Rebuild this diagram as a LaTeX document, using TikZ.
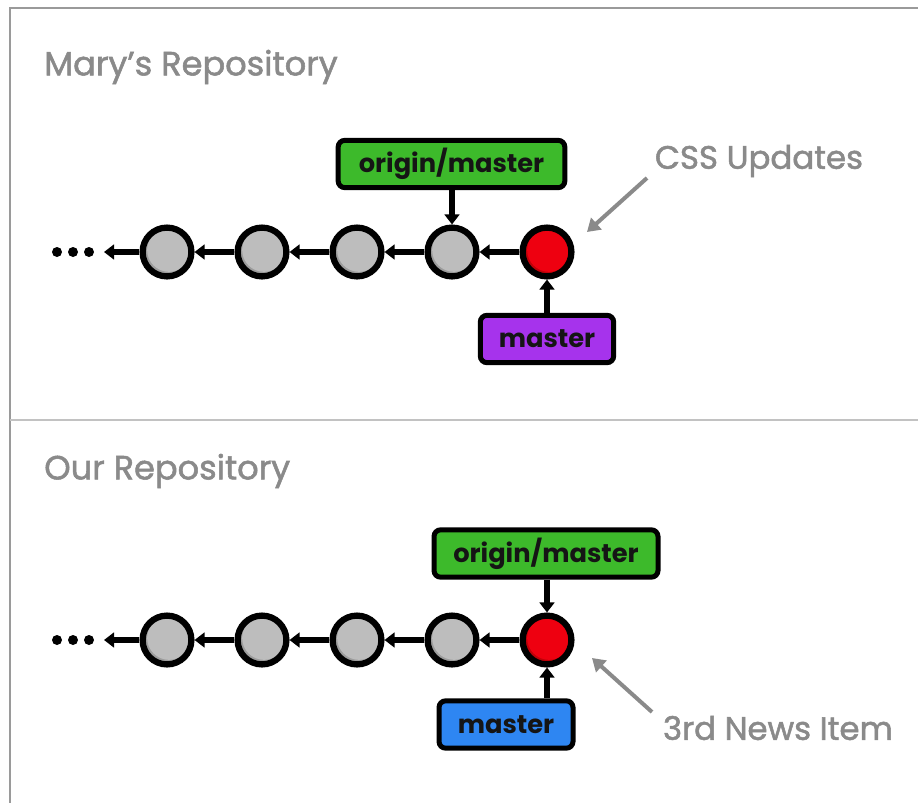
\documentclass[tikz,border=0pt]{standalone}
\usepackage{fontspec}
\setmainfont{Poppins}
\newfontfamily\notefont{Poppins}[FakeBold=1.6]
\usetikzlibrary{arrows.meta}
\definecolor{framegray}{HTML}{9A9A9A}
\definecolor{divgray}{HTML}{C2C2C2}
\definecolor{txtgray}{HTML}{8A8A8A}
\definecolor{commitlight}{HTML}{BDBDBD}
\definecolor{commitdark}{HTML}{9C9C9C}
\definecolor{redlight}{HTML}{EE0010}
\definecolor{reddark}{HTML}{BE0008}
\definecolor{greenfill}{HTML}{3DBA2B}
\definecolor{greendark}{HTML}{2E9A20}
\definecolor{purplefill}{HTML}{A633EC}
\definecolor{purpledark}{HTML}{8A1FCC}
\definecolor{bluefill}{HTML}{2E86F2}
\definecolor{bluedark}{HTML}{1C6AD0}
\definecolor{boxtext}{HTML}{151515}
\tikzset{
  commit/.style={circle, draw=black, line width=4.7pt, minimum size=36.6pt, inner sep=0pt,
    fill=commitdark, path picture={\fill[commitlight] ([xshift=1.6pt,yshift=1.6pt]path picture bounding box.center) circle (16.5pt);}},
  redcommit/.style={commit, fill=reddark, path picture={\fill[redlight] ([xshift=1.6pt,yshift=1.6pt]path picture bounding box.center) circle (16.5pt);}},
  dotnode/.style={circle, fill=black, minimum size=7.5pt, inner sep=0pt},
  carrow/.style={line width=3.9pt, -{Triangle[width=11pt,length=7.5pt]}},
  garrow/.style={draw=txtgray, line width=3pt, -{Triangle[width=11.5pt,length=9.5pt]}},
  branch/.style={draw=black, line width=3.75pt, rounded corners=5pt, minimum height=35.5pt, inner sep=0pt,
    text=boxtext, font=\bfseries\fontsize{19.3}{19.3}\selectfont},
  boxshade/.style={path picture={\fill[#1, rounded corners=3pt] ([xshift=1.5pt,yshift=1.5pt]path picture bounding box.south west) rectangle (path picture bounding box.north east);}},
  title/.style={text=txtgray, font=\notefont\fontsize{25.2}{25.2}\selectfont, anchor=west, inner sep=0pt},
  note/.style={text=txtgray, font=\notefont\fontsize{24.3}{24.3}\selectfont, inner sep=0pt},
}
\begin{document}
\begin{tikzpicture}[x=0.75pt,y=-0.75pt]
\useasboundingbox[fill=white] (0,0) rectangle (918,803);
% frame and divider
\coordinate (fbl) at (10,803);
\coordinate (ftl) at (10,8);
\coordinate (ftr) at (918,8);
\coordinate (dl) at (10,420);
\coordinate (dr) at (918,420);
\draw[framegray, line width=1.5pt] (fbl) -- (ftl) -- (ftr);
\draw[divgray, line width=1.5pt] (dl) -- (dr);

% ---------- Mary's repository ----------
\node[title] (ttitle) at (44,67) {Mary’s Repository};
\node[dotnode] (td1) at (57,252) {};
\node[dotnode] (td2) at (73,252) {};
\node[dotnode] (td3) at (89,252) {};
\coordinate (tend) at (104,252);
\node[commit] (t1) at (167,252) {};
\node[commit] (t2) at (262,252) {};
\node[commit] (t3) at (357,252) {};
\node[commit] (t4) at (452,252) {};
\node[redcommit] (t5) at (547,252) {};
\draw[carrow] (t5) -- (t4);
\draw[carrow] (t4) -- (t3);
\draw[carrow] (t3) -- (t2);
\draw[carrow] (t2) -- (t1);
\draw[carrow] (t1) -- (tend);
\node[branch, fill=greendark, boxshade=greenfill, minimum width=170pt] (tom) at (451.5,164) {origin/master};
\node[branch, fill=purpledark, boxshade=purplefill, minimum width=100pt] (tm) at (547,339) {master};
\draw[carrow] (tom.south -| t4.center) -- (t4.north);
\draw[carrow] (tm.north -| t5.center) -- (t5.south);
\node[note] (css) at (759,161) {CSS Updates};
\coordinate (cssa) at (647,178);
\coordinate (cssb) at (587,232);
\draw[garrow] (cssa) -- (cssb);

% ---------- Our repository ----------
\node[title] (btitle) at (44,471) {Our Repository};
\node[dotnode] (bd1) at (57,640) {};
\node[dotnode] (bd2) at (73,640) {};
\node[dotnode] (bd3) at (89,640) {};
\coordinate (bend) at (104,640);
\node[commit] (b1) at (167,640) {};
\node[commit] (b2) at (262,640) {};
\node[commit] (b3) at (357,640) {};
\node[commit] (b4) at (452,640) {};
\node[redcommit] (b5) at (547,640) {};
\draw[carrow] (b5) -- (b4);
\draw[carrow] (b4) -- (b3);
\draw[carrow] (b3) -- (b2);
\draw[carrow] (b2) -- (b1);
\draw[carrow] (b1) -- (bend);
\node[branch, fill=greendark, boxshade=greenfill, minimum width=168pt] (bom) at (546,553.5) {origin/master};
\node[branch, fill=bluedark, boxshade=bluefill, minimum width=100.5pt] (bm) at (506,724.5) {master};
\draw[carrow] (bom.south -| b5.center) -- (b5.north);
\draw[carrow] (bm.north -| b5.center) -- (b5.south);
\node[note] (news) at (778,728) {3rd News Item};
\coordinate (newsa) at (652,712);
\coordinate (newsb) at (592,658);
\draw[garrow] (newsa) -- (newsb);
\end{tikzpicture}
\end{document}
